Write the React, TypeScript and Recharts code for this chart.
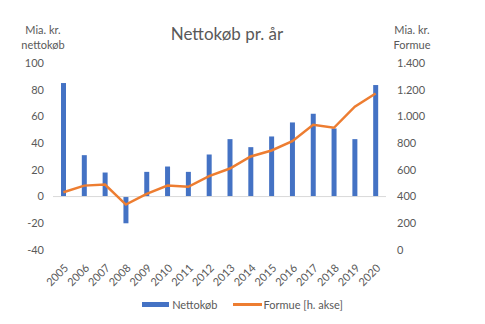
import React from 'react';
import { ComposedChart, Bar, Line, XAxis, YAxis, ReferenceLine, Legend } from 'recharts';

const years = ['2005','2006','2007','2008','2009','2010','2011','2012','2013','2014','2015','2016','2017','2018','2019','2020'];
const nettokob = [85, 31, 18, -20, 18.5, 22.5, 18.5, 31.5, 43, 37, 45, 55.5, 62, 51, 43, 83.5];
const formue = [432, 482, 490, 340, 420, 482, 473, 553, 610, 700, 745, 815, 938, 915, 1073, 1172];
const leftTicks = [-40, -20, 0, 20, 40, 60, 80, 100];
const rightTicks = [0, 200, 400, 600, 800, 1000, 1200, 1400];

const data = years.map((y, i) => ({ year: y, net: nettokob[i], formue: formue[i] }));

const FONT = 'Lato, "Liberation Sans", sans-serif';
const GREY = '#595959';
const BLUE = '#4472C4';
const ORANGE = '#ED7D31';

const fmtThousands = (v: number) => {
  const s = String(v);
  return s.length > 3 ? s.slice(0, s.length - 3) + '.' + s.slice(s.length - 3) : s;
};

const XTick = (props: any) => {
  const { x, y, payload } = props;
  const ax = x + 3;
  const ay = y + 8;
  return (
    <text x={ax} y={ay} dy="0.35em" textAnchor="end" fill={GREY} fontSize={11} fontFamily={FONT}
      transform={`rotate(-45, ${ax}, ${ay})`}>{payload.value}</text>
  );
};

const LegendContent = () => (
  <div style={{ display: 'flex', justifyContent: 'center', alignItems: 'center', fontFamily: FONT, fontSize: 11, color: GREY }}>
    <span style={{ display: 'inline-block', width: 27, height: 5, background: BLUE, marginRight: 3 }} />
    <span style={{ marginRight: 15 }}>Nettokøb</span>
    <span style={{ display: 'inline-block', width: 29, height: 2.5, background: ORANGE, marginRight: 2 }} />
    <span>Formue [h. akse]</span>
  </div>
);

export default function App() {
  return (
    <div style={{ position: 'absolute', left: 0, top: 0, width: 485, height: 324, background: '#fff' }}>
      <ComposedChart width={485} height={324} data={data} margin={{ top: 63, right: 0, bottom: 0, left: 0 }} barCategoryGap={0}>
        <text x={227} y={40} textAnchor="middle" fill={GREY} fontSize={17} fontFamily={FONT}>Nettokøb pr. år</text>
        <XAxis dataKey="year" axisLine={false} tickLine={false} interval={0} tick={<XTick />} height={74} />
        <YAxis yAxisId="l" orientation="left" width={53} domain={[-40, 100]} ticks={leftTicks}
          axisLine={false} tickLine={false} tickSize={0} tickMargin={9} interval={0}
          tick={{ fill: GREY, fontSize: 11, fontFamily: FONT }}
          label={(p: any) => (
            <g>
              <text x={43} y={34} textAnchor="middle" fill={GREY} fontSize={11} fontFamily={FONT}>Mia. kr.</text>
              <text x={43} y={49} textAnchor="middle" fill={GREY} fontSize={11} fontFamily={FONT}>nettokøb</text>
            </g>
          )} />
        <YAxis yAxisId="r" orientation="right" width={99} domain={[0, 1400]} ticks={rightTicks}
          axisLine={false} tickLine={false} tickSize={0} tickMargin={11} interval={0}
          tickFormatter={fmtThousands}
          tick={{ fill: GREY, fontSize: 11, fontFamily: FONT }}
          label={(p: any) => (
            <g>
              <text x={412} y={34} textAnchor="middle" fill={GREY} fontSize={11} fontFamily={FONT}>Mia. kr.</text>
              <text x={412} y={49} textAnchor="middle" fill={GREY} fontSize={11} fontFamily={FONT}>Formue</text>
            </g>
          )} />
        <ReferenceLine yAxisId="l" y={0} stroke="#d9d9d9" strokeWidth={1} />
        <Bar yAxisId="l" dataKey="net" name="Nettokøb" fill={BLUE} barSize={5} isAnimationActive={false} />
        <Line yAxisId="r" dataKey="formue" name="Formue [h. akse]" stroke={ORANGE} strokeWidth={2.5} dot={false} type="linear" isAnimationActive={false} />
        <Legend content={<LegendContent />} wrapperStyle={{ position: 'absolute', top: 298, left: 0, width: 485, height: 0, overflow: 'visible' }} />
      </ComposedChart>
    </div>
  );
}
